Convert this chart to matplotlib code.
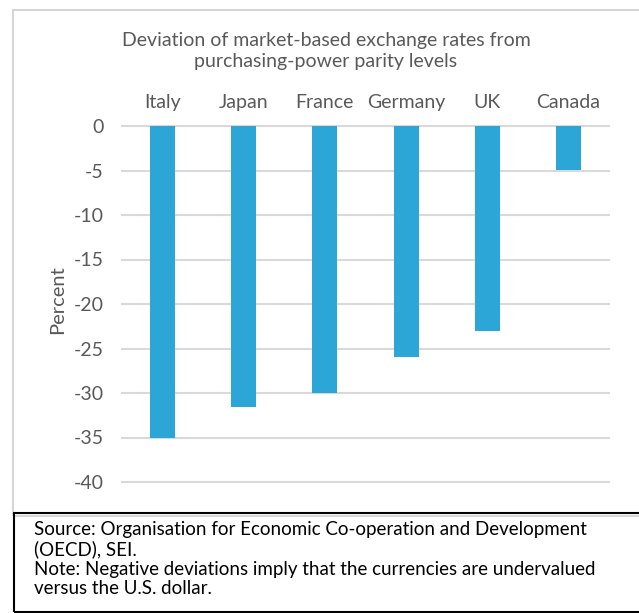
import matplotlib
matplotlib.use("Agg")
import matplotlib.pyplot as plt
from matplotlib.patches import Rectangle

categories = ["Italy", "Japan", "France", "Germany", "UK", "Canada"]
values = [-35.0, -31.6, -30.0, -25.9, -23.0, -4.9]
yticks = [0, -5, -10, -15, -20, -25, -30, -35, -40]

title = "Deviation of market-based exchange rates from\npurchasing-power parity levels"
footer = ("Source: Organisation for Economic Co-operation and Development\n"
          "(OECD), SEI.\n"
          "Note: Negative deviations imply that the currencies are undervalued\n"
          "versus the U.S. dollar.")

plt.rcParams['font.family'] = ['Lato', 'DejaVu Sans']
gray = "#595959"
bar_color = "#2ca5d7"
grid_color = "#d9d9d9"

W, H = 639, 613
fig = plt.figure(figsize=(W / 100, H / 100), dpi=100)

# outer chart border
fig.patches.append(Rectangle((13 / W, 1 - 516 / H), 640 / W, 506 / H,
                             transform=fig.transFigure, fill=False,
                             edgecolor="#d6d6d6", lw=1.5))
# footer box
fig.patches.append(Rectangle((14 / W, 1 - 612 / H), 640 / W, 99 / H,
                             transform=fig.transFigure, fill=False,
                             edgecolor="black", lw=1.5))

ax = fig.add_axes([122 / W, 1 - 482 / H, 487 / W, 356 / H])
x = list(range(len(categories)))
ax.bar(x, values, width=0.31, color=bar_color, zorder=3)
ax.set_xlim(-0.5, len(categories) - 0.5)
ax.set_ylim(-40, 0)
for t in yticks:
    ax.axhline(t, color=grid_color, lw=1.5, zorder=1, clip_on=False)
for s in ax.spines.values():
    s.set_visible(False)
ax.set_yticks(yticks)
ax.set_yticklabels([str(t) for t in yticks], fontsize=14, color=gray)
ax.tick_params(axis="y", length=0, pad=13)
ax.xaxis.tick_top()
ax.set_xticks(x)
ax.set_xticklabels(categories, fontsize=14, color=gray)
ax.tick_params(axis="x", length=0, pad=11)
ax.set_ylabel("Percent", fontsize=14.5, color=gray)
ax.yaxis.set_label_coords((66 - 122) / 487, (482 - 300) / 356)

fig.text(326 / W, 1 - 51 / H, title, ha="center", va="center",
         fontsize=14, color=gray, linespacing=1.3)

fig.text(34 / W, 1 - 559 / H, footer, ha="left", va="center",
         fontsize=13.5, color="black", linespacing=1.15)

fig.savefig("out.png", dpi=100)
